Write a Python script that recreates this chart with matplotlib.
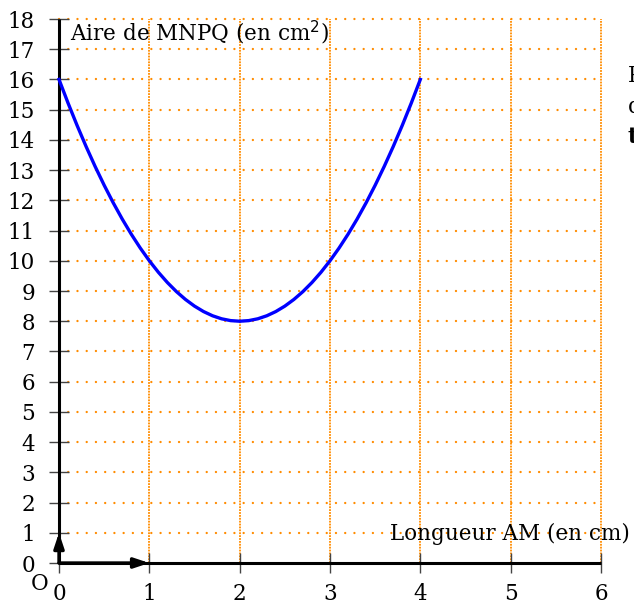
import matplotlib
matplotlib.use("Agg")
import matplotlib.pyplot as plt

# Data
am_cm = [0.0, 0.1, 0.2, 0.3, 0.4, 0.5, 0.6, 0.7, 0.8, 0.9,
         1.0, 1.1, 1.2, 1.3, 1.4, 1.5, 1.6, 1.7, 1.8, 1.9,
         2.0, 2.1, 2.2, 2.3, 2.4, 2.5, 2.6, 2.7, 2.8, 2.9,
         3.0, 3.1, 3.2, 3.3, 3.4, 3.5, 3.6, 3.7, 3.8, 3.9, 4.0]
area_cm2 = [16.0, 15.22, 14.48, 13.78, 13.12, 12.5, 11.92, 11.38, 10.88, 10.42,
            10.0, 9.62, 9.28, 8.98, 8.72, 8.5, 8.32, 8.18, 8.08, 8.02,
            8.0, 8.02, 8.08, 8.18, 8.32, 8.5, 8.72, 8.98, 9.28, 9.62,
            10.0, 10.42, 10.88, 11.38, 11.92, 12.5, 13.12, 13.78, 14.48, 15.22, 16.0]
x_ticks = [0, 1, 2, 3, 4, 5, 6]
y_ticks = list(range(0, 19))

plt.rcParams['font.family'] = ['DejaVu Serif']
FS = 15.5
W, H = 634, 602
fig = plt.figure(figsize=(W / 100, H / 100), dpi=100)
ax = fig.add_axes([59 / W, (H - 563) / H, (601 - 59) / W, (563 - 19) / H])
ax.set_xlim(0, 6)
ax.set_ylim(0, 18)
for s in ax.spines.values():
    s.set_visible(False)

orange = '#ff8c00'
for xv in x_ticks[1:]:
    ax.plot([xv, xv], [0, 18], color=orange, lw=1.3, ls=(0, (1, 0.6)), clip_on=False, zorder=1)
for yv in y_ticks[1:]:
    ax.plot([0, 6], [yv, yv], color=orange, lw=1.7, ls=(0, (0.01, 3.9)), dash_capstyle='round',
            clip_on=False, zorder=1)

ax.plot([0, 6], [0, 0], color='black', lw=2.2, clip_on=False, zorder=3, solid_capstyle='butt')
ax.plot([0, 0], [0, 18], color='black', lw=2.2, clip_on=False, zorder=3, solid_capstyle='butt')

ax.plot(am_cm, area_cm2, color='#0000ff', lw=2.4, clip_on=False, zorder=4)

arrow_kw = dict(arrowstyle='-|>,head_length=0.9,head_width=0.3', color='black', lw=2.4,
                shrinkA=0, shrinkB=0)
ax.annotate('', xy=(1, 0), xytext=(0, 0), arrowprops=arrow_kw, annotation_clip=False, zorder=5)
ax.annotate('', xy=(0, 1), xytext=(0, 0), arrowprops=arrow_kw, annotation_clip=False, zorder=5)

ax.set_xticks(x_ticks)
ax.set_yticks(y_ticks)
ax.set_xticklabels([str(v) for v in x_ticks])
ax.set_yticklabels([str(v) for v in y_ticks])
ax.tick_params(axis='both', direction='inout', length=14.5, width=1.0, color='#444444',
               labelsize=FS, labelcolor='black')
ax.tick_params(axis='x', pad=7)
ax.tick_params(axis='y', pad=10)

ax.text(0.12, 17.55, 'Aire de MNPQ (en cm$^2$)', fontsize=FS, ha='left', va='center',
        zorder=6)
ax.text(6.32, 0.95, 'Longueur AM (en cm)', fontsize=FS, ha='right', va='center',
        clip_on=False, zorder=6)
ax.text(-0.21, -0.7, 'O', fontsize=FS, ha='center', va='center', clip_on=False)

for yv, t, w in [(16.1, 'P', 'normal'), (15.1, 'd', 'normal'), (14.1, 't', 'bold')]:
    fig.text(628 / W, 1 - (563 - (yv) * (544 / 18)) / H, t, fontsize=FS, ha='left',
             va='center', fontweight=w)

fig.savefig('out.png', dpi=100)
